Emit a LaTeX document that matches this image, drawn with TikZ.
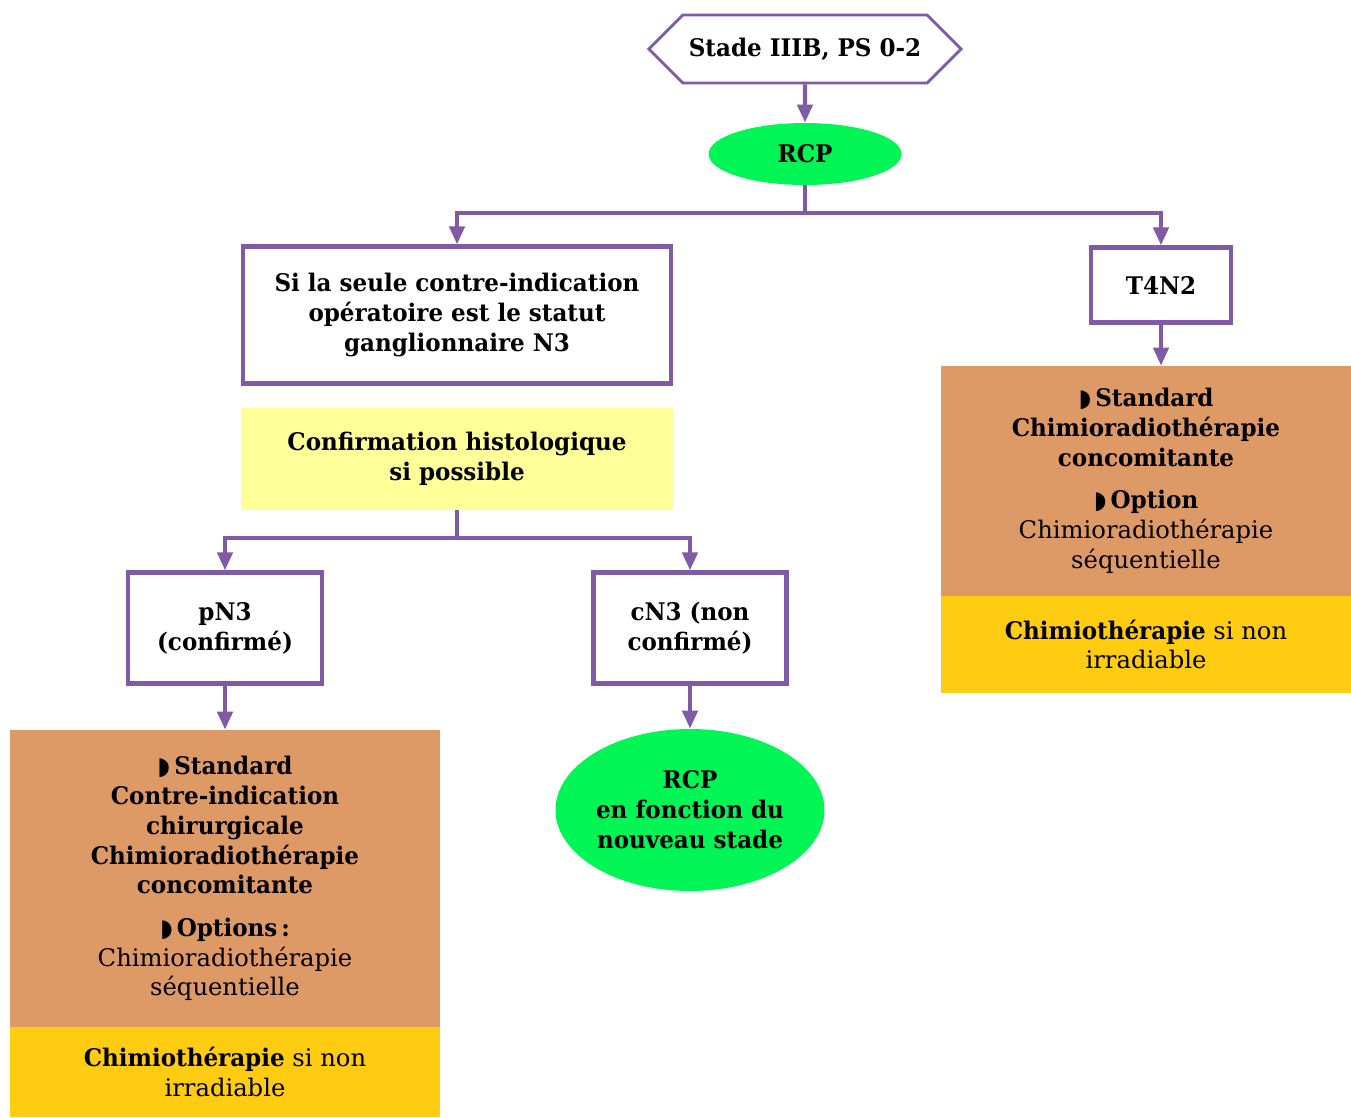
\documentclass[tikz,border=0pt]{standalone}
\usepackage{fontspec}
\setmainfont{DejaVu Serif}[BoldFeatures={FakeStretch=0.95}]
\newfontfamily\symfont{DejaVu Sans}
\usepackage{tikz}
\usetikzlibrary{shapes.geometric, shapes.symbols, arrows.meta, positioning}
\definecolor{rcppurple}{RGB}{128,90,165}
\definecolor{rcpgreen}{RGB}{0,245,85}
\definecolor{stdorange}{RGB}{221,153,102}
\definecolor{chimiogold}{RGB}{255,204,17}
\definecolor{histoyellow}{RGB}{255,255,153}
\newcommand{\diagfont}{\fontsize{13.8}{17}\selectfont}
\newcommand{\puce}{{\symfont ◗}\,}

\begin{document}
\begin{tikzpicture}[
    x=0.02cm, y=-0.02cm,
    purplebox/.style={rectangle, draw=rcppurple, line width=2.4pt, fill=white, align=center, font=\diagfont\bfseries, inner sep=2pt},
    hexa/.style={signal, signal to=west and east, signal pointer angle=90, draw=rcppurple, line width=1.6pt, fill=white, font=\diagfont\bfseries},
    greenell/.style={ellipse, fill=rcpgreen, align=center, inner sep=0pt, font=\diagfont\bfseries},
    softbox/.style={rectangle, fill=#1, align=center, inner sep=0pt, font=\diagfont},
    arrow/.style={-{Triangle[length=3.6mm, width=3mm]}, rcppurple, line width=2.4pt}
]
\useasboundingbox[fill=white] (0,0) rectangle (1351,1117);

% top of the tree
\node[hexa, minimum width=6.12cm, minimum height=1.36cm] (stade) at (805,49) {Stade IIIB, PS 0-2};
\node[greenell, minimum width=3.86cm, minimum height=1.24cm] (rcp) at (805,154) {RCP};
\draw[arrow] (stade) -- (rcp);

% left branch
\node[purplebox, minimum width=8.56cm, minimum height=2.74cm] (seule) at (457,315) {Si la seule contre-indication\\opératoire est le statut\\ganglionnaire N3};
\node[softbox=histoyellow, font=\diagfont\bfseries, minimum width=8.64cm, minimum height=2.04cm] (confirm) at (457,459) {Confirmation histologique\\si possible};
\node[purplebox, minimum width=3.88cm, minimum height=2.22cm] (pn3) at (225,628) {pN3\\(confirmé)};
\node[purplebox, minimum width=3.86cm, minimum height=2.22cm] (cn3) at (690,628) {cN3 (non\\confirmé)};
\node[softbox=stdorange, minimum width=8.6cm, minimum height=5.94cm] (stdleft) at (225,878.5) {\puce\textbf{Standard}\\\textbf{Contre-indication}\\\textbf{chirurgicale}\\\textbf{Chimioradiothérapie}\\\textbf{concomitante}\\[7pt]\puce\textbf{Options\,:}\\Chimioradiothérapie\\séquentielle};
\node[softbox=chimiogold, minimum width=8.6cm, minimum height=1.8cm] (chimioleft) at (225,1072) {\textbf{Chimiothérapie} si non\\irradiable};
\node[greenell, minimum width=5.38cm, minimum height=3.24cm] (rcpstade) at (690,810) {RCP\\en fonction du\\nouveau stade};

% right branch
\node[purplebox, minimum width=2.8cm, minimum height=1.5cm] (tfour) at (1161,285) {T4N2};
\node[softbox=stdorange, minimum width=8.2cm, minimum height=4.6cm] (stdright) at (1146,481) {\puce\textbf{Standard}\\\textbf{Chimioradiothérapie}\\\textbf{concomitante}\\[7pt]\puce\textbf{Option}\\Chimioradiothérapie\\séquentielle};
\node[softbox=chimiogold, minimum width=8.2cm, minimum height=1.94cm] (chimioright) at (1146,644.5) {\textbf{Chimiothérapie} si non\\irradiable};

% connectors
\draw[arrow] (rcp.south) -- ++(0,28) -| (seule.north);
\draw[arrow] (rcp.south) -- ++(0,28) -| (tfour.north);
\draw[arrow] (tfour.south) -- (tfour.south |- stdright.north);
\draw[arrow] (confirm.south) -- ++(0,28) -| (pn3.north);
\draw[arrow] (confirm.south) -- ++(0,28) -| (cn3.north);
\draw[arrow] (pn3) -- (stdleft);
\draw[arrow] (cn3) -- (rcpstade);

\end{tikzpicture}
\end{document}
